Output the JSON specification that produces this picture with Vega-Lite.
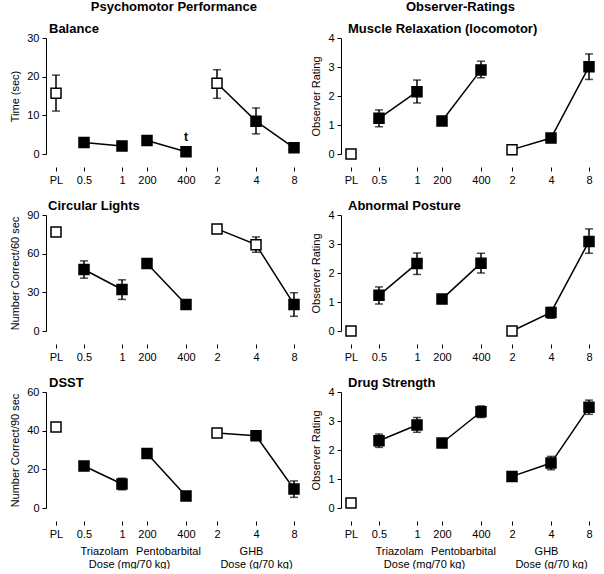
{
"$schema": "https://vega.github.io/schema/vega-lite/v6.json",
"padding": {"left": 9, "top": 1, "right": 0, "bottom": 0},
"background": "white",
"config": {
  "font": "Liberation Sans",
  "view": {"stroke": null},
  "axis": {"labelFont": "Liberation Sans", "labelFontSize": 11, "labelColor": "black", "titleFont": "Liberation Sans", "titleFontSize": 11, "titleFontWeight": "normal", "titleColor": "black", "domainColor": "black", "tickColor": "black", "grid": false},
  "title": {"font": "Liberation Sans", "fontSize": 13, "fontWeight": "bold", "color": "black"},
  "concat": {"spacing": 15}
},
"datasets": {
  "d": [
    {"p": "Balance", "drug": "PL", "dose": "PL", "mean": 15.7, "lo": 11.1, "hi": 20.4, "sig": "ns"},
    {"p": "Balance", "drug": "Triazolam", "dose": "0.5", "mean": 3.0, "lo": 2.5, "hi": 3.5, "sig": "s"},
    {"p": "Balance", "drug": "Triazolam", "dose": "1", "mean": 2.1, "lo": 1.6, "hi": 2.6, "sig": "s"},
    {"p": "Balance", "drug": "Pentobarbital", "dose": "200", "mean": 3.5, "lo": 3.0, "hi": 4.0, "sig": "s"},
    {"p": "Balance", "drug": "Pentobarbital", "dose": "400", "mean": 0.6, "lo": 0.3, "hi": 0.9, "sig": "s", "note": "t"},
    {"p": "Balance", "drug": "GHB", "dose": "2", "mean": 18.3, "lo": 14.4, "hi": 21.8, "sig": "ns"},
    {"p": "Balance", "drug": "GHB", "dose": "4", "mean": 8.5, "lo": 5.2, "hi": 11.9, "sig": "s"},
    {"p": "Balance", "drug": "GHB", "dose": "8", "mean": 1.6, "lo": 1.1, "hi": 2.1, "sig": "s"},

    {"p": "CL", "drug": "PL", "dose": "PL", "mean": 76.9, "lo": 74.5, "hi": 79.3, "sig": "ns"},
    {"p": "CL", "drug": "Triazolam", "dose": "0.5", "mean": 47.7, "lo": 41.0, "hi": 54.4, "sig": "s"},
    {"p": "CL", "drug": "Triazolam", "dose": "1", "mean": 32.2, "lo": 24.5, "hi": 39.7, "sig": "s"},
    {"p": "CL", "drug": "Pentobarbital", "dose": "200", "mean": 52.4, "lo": 49.0, "hi": 56.0, "sig": "s"},
    {"p": "CL", "drug": "Pentobarbital", "dose": "400", "mean": 20.6, "lo": 17.5, "hi": 23.7, "sig": "s"},
    {"p": "CL", "drug": "GHB", "dose": "2", "mean": 79.2, "lo": 76.0, "hi": 82.4, "sig": "ns"},
    {"p": "CL", "drug": "GHB", "dose": "4", "mean": 67.0, "lo": 61.1, "hi": 73.0, "sig": "ns"},
    {"p": "CL", "drug": "GHB", "dose": "8", "mean": 20.6, "lo": 11.4, "hi": 29.7, "sig": "s"},

    {"p": "DSST", "drug": "PL", "dose": "PL", "mean": 41.9, "lo": 40.5, "hi": 43.3, "sig": "ns"},
    {"p": "DSST", "drug": "Triazolam", "dose": "0.5", "mean": 21.7, "lo": 19.5, "hi": 23.9, "sig": "s"},
    {"p": "DSST", "drug": "Triazolam", "dose": "1", "mean": 12.4, "lo": 9.4, "hi": 15.4, "sig": "s"},
    {"p": "DSST", "drug": "Pentobarbital", "dose": "200", "mean": 28.2, "lo": 26.8, "hi": 29.6, "sig": "s"},
    {"p": "DSST", "drug": "Pentobarbital", "dose": "400", "mean": 6.2, "lo": 5.0, "hi": 7.4, "sig": "s"},
    {"p": "DSST", "drug": "GHB", "dose": "2", "mean": 38.8, "lo": 36.8, "hi": 40.8, "sig": "ns"},
    {"p": "DSST", "drug": "GHB", "dose": "4", "mean": 37.4, "lo": 36.0, "hi": 38.8, "sig": "s"},
    {"p": "DSST", "drug": "GHB", "dose": "8", "mean": 9.8, "lo": 5.5, "hi": 14.0, "sig": "s"},

    {"p": "MR", "drug": "PL", "dose": "PL", "mean": 0.0, "lo": 0.0, "hi": 0.0, "sig": "ns"},
    {"p": "MR", "drug": "Triazolam", "dose": "0.5", "mean": 1.23, "lo": 0.94, "hi": 1.52, "sig": "s"},
    {"p": "MR", "drug": "Triazolam", "dose": "1", "mean": 2.15, "lo": 1.76, "hi": 2.55, "sig": "s"},
    {"p": "MR", "drug": "Pentobarbital", "dose": "200", "mean": 1.14, "lo": 1.05, "hi": 1.23, "sig": "s"},
    {"p": "MR", "drug": "Pentobarbital", "dose": "400", "mean": 2.9, "lo": 2.63, "hi": 3.2, "sig": "s"},
    {"p": "MR", "drug": "GHB", "dose": "2", "mean": 0.15, "lo": 0.1, "hi": 0.2, "sig": "ns"},
    {"p": "MR", "drug": "GHB", "dose": "4", "mean": 0.55, "lo": 0.47, "hi": 0.63, "sig": "s"},
    {"p": "MR", "drug": "GHB", "dose": "8", "mean": 3.01, "lo": 2.57, "hi": 3.45, "sig": "s"},

    {"p": "AP", "drug": "PL", "dose": "PL", "mean": 0.0, "lo": 0.0, "hi": 0.0, "sig": "ns"},
    {"p": "AP", "drug": "Triazolam", "dose": "0.5", "mean": 1.23, "lo": 0.93, "hi": 1.52, "sig": "s"},
    {"p": "AP", "drug": "Triazolam", "dose": "1", "mean": 2.33, "lo": 1.95, "hi": 2.69, "sig": "s"},
    {"p": "AP", "drug": "Pentobarbital", "dose": "200", "mean": 1.1, "lo": 1.02, "hi": 1.18, "sig": "s"},
    {"p": "AP", "drug": "Pentobarbital", "dose": "400", "mean": 2.34, "lo": 2.0, "hi": 2.68, "sig": "s"},
    {"p": "AP", "drug": "GHB", "dose": "2", "mean": 0.0, "lo": 0.0, "hi": 0.0, "sig": "ns"},
    {"p": "AP", "drug": "GHB", "dose": "4", "mean": 0.64, "lo": 0.44, "hi": 0.81, "sig": "s"},
    {"p": "AP", "drug": "GHB", "dose": "8", "mean": 3.09, "lo": 2.68, "hi": 3.52, "sig": "s"},

    {"p": "DS", "drug": "PL", "dose": "PL", "mean": 0.17, "lo": 0.17, "hi": 0.17, "sig": "ns"},
    {"p": "DS", "drug": "Triazolam", "dose": "0.5", "mean": 2.32, "lo": 2.09, "hi": 2.55, "sig": "s"},
    {"p": "DS", "drug": "Triazolam", "dose": "1", "mean": 2.86, "lo": 2.61, "hi": 3.12, "sig": "s"},
    {"p": "DS", "drug": "Pentobarbital", "dose": "200", "mean": 2.24, "lo": 2.14, "hi": 2.34, "sig": "s"},
    {"p": "DS", "drug": "Pentobarbital", "dose": "400", "mean": 3.32, "lo": 3.12, "hi": 3.52, "sig": "s"},
    {"p": "DS", "drug": "GHB", "dose": "2", "mean": 1.09, "lo": 0.99, "hi": 1.19, "sig": "s"},
    {"p": "DS", "drug": "GHB", "dose": "4", "mean": 1.55, "lo": 1.32, "hi": 1.78, "sig": "s"},
    {"p": "DS", "drug": "GHB", "dose": "8", "mean": 3.47, "lo": 3.23, "hi": 3.72, "sig": "s"}
  ]
},
"hconcat": [
 {
  "title": {"text": "Psychomotor Performance", "anchor": "start", "dx": 81, "offset": 9},
  "spacing": 15,
  "vconcat": [
   {
    "width": 256, "height": 116,
    "title": {"text": "Balance", "anchor": "start", "frame": "group", "dx": 3, "offset": -4},
    "data": {"name": "d"},
    "transform": [{"filter": "datum.p == 'Balance'"}, {"calculate": "[10,38,76,101,140,171,210,248][indexof(['PL','0.5','1','200','400','2','4','8'], datum.dose)]", "as": "xpos"}],
    "encoding": {
      "x": {"field": "xpos", "type": "quantitative", "scale": {"domain": [0, 256], "nice": false, "zero": false}, "axis": {"values": [10, 38, 76, 101, 140, 171, 210, 248], "labelExpr": "['PL','0.5','1','200','400','2','4','8'][indexof([10,38,76,101,140,171,210,248], datum.value)]", "orient": "bottom", "offset": 13, "domain": false, "tickSize": 4, "labelPadding": 3, "labelFlush": false, "labelOverlap": false, "labelBound": false, "title": null}},
      "y": {"field": "mean", "type": "quantitative", "scale": {"domain": [0, 30], "nice": false, "zero": false}, "axis": {"values": [0, 10, 20, 30], "title": "Time (sec)", "orient": "left", "tickSize": 4, "labelPadding": 3, "titlePadding": 6}}
    },
    "layer": [
     {"transform": [{"aggregate": [{"op": "min", "field": "xpos", "as": "x1"}, {"op": "max", "field": "xpos", "as": "x2"}], "groupby": ["drug"]}, {"calculate": "datum.drug == 'PL' ? datum.x1 - 11 : datum.x1", "as": "a"}, {"calculate": "datum.drug == 'PL' ? datum.x2 + 11 : datum.x2", "as": "b"}],
      "mark": {"type": "rule", "color": "black", "strokeWidth": 1},
      "encoding": {"x": {"field": "a", "type": "quantitative"}, "x2": {"field": "b"}, "y": {"datum": -3.36, "type": "quantitative"}}},
     {"mark": {"type": "rule", "color": "black", "strokeWidth": 1.5},
      "encoding": {"y": {"field": "lo", "type": "quantitative"}, "y2": {"field": "hi"}}},
     {"transform": [{"fold": ["lo", "hi"], "as": ["bound", "val"]}],
      "mark": {"type": "tick", "orient": "horizontal", "size": 8, "thickness": 1.5, "color": "black"},
      "encoding": {"y": {"field": "val", "type": "quantitative"}}},
     {"transform": [{"filter": "datum.drug != 'PL'"}],
      "mark": {"type": "line", "color": "black", "strokeWidth": 1.5},
      "encoding": {"detail": {"field": "drug"}}},
     {"mark": {"type": "point", "shape": "square", "size": 100, "filled": true, "stroke": "black", "strokeWidth": 1.5, "opacity": 1},
      "encoding": {"fill": {"field": "sig", "type": "nominal", "scale": {"domain": ["ns", "s"], "range": ["white", "black"]}, "legend": null}}},
     {"transform": [{"filter": "datum.note"}],
      "mark": {"type": "text", "fontWeight": "bold", "fontSize": 12, "dy": -15, "color": "black"},
      "encoding": {"text": {"field": "note"}}}
    ]
   },
   {
    "width": 256, "height": 116,
    "title": {"text": "Circular Lights", "anchor": "start", "frame": "group", "dx": 2, "offset": -4},
    "data": {"name": "d"},
    "transform": [{"filter": "datum.p == 'CL'"}, {"calculate": "[10,38,76,101,140,171,210,248][indexof(['PL','0.5','1','200','400','2','4','8'], datum.dose)]", "as": "xpos"}],
    "encoding": {
      "x": {"field": "xpos", "type": "quantitative", "scale": {"domain": [0, 256], "nice": false, "zero": false}, "axis": {"values": [10, 38, 76, 101, 140, 171, 210, 248], "labelExpr": "['PL','0.5','1','200','400','2','4','8'][indexof([10,38,76,101,140,171,210,248], datum.value)]", "orient": "bottom", "offset": 13, "domain": false, "tickSize": 4, "labelPadding": 3, "labelFlush": false, "labelOverlap": false, "labelBound": false, "title": null}},
      "y": {"field": "mean", "type": "quantitative", "scale": {"domain": [0, 90], "nice": false, "zero": false}, "axis": {"values": [0, 30, 60, 90], "title": "Number Correct/60 sec", "orient": "left", "tickSize": 4, "labelPadding": 3, "titlePadding": 6}}
    },
    "layer": [
     {"transform": [{"aggregate": [{"op": "min", "field": "xpos", "as": "x1"}, {"op": "max", "field": "xpos", "as": "x2"}], "groupby": ["drug"]}, {"calculate": "datum.drug == 'PL' ? datum.x1 - 11 : datum.x1", "as": "a"}, {"calculate": "datum.drug == 'PL' ? datum.x2 + 11 : datum.x2", "as": "b"}],
      "mark": {"type": "rule", "color": "black", "strokeWidth": 1},
      "encoding": {"x": {"field": "a", "type": "quantitative"}, "x2": {"field": "b"}, "y": {"datum": -10.09, "type": "quantitative"}}},
     {"mark": {"type": "rule", "color": "black", "strokeWidth": 1.5},
      "encoding": {"y": {"field": "lo", "type": "quantitative"}, "y2": {"field": "hi"}}},
     {"transform": [{"fold": ["lo", "hi"], "as": ["bound", "val"]}],
      "mark": {"type": "tick", "orient": "horizontal", "size": 8, "thickness": 1.5, "color": "black"},
      "encoding": {"y": {"field": "val", "type": "quantitative"}}},
     {"transform": [{"filter": "datum.drug != 'PL'"}],
      "mark": {"type": "line", "color": "black", "strokeWidth": 1.5},
      "encoding": {"detail": {"field": "drug"}}},
     {"mark": {"type": "point", "shape": "square", "size": 100, "filled": true, "stroke": "black", "strokeWidth": 1.5, "opacity": 1},
      "encoding": {"fill": {"field": "sig", "type": "nominal", "scale": {"domain": ["ns", "s"], "range": ["white", "black"]}, "legend": null}}}
    ]
   },
   {
    "width": 256, "height": 116,
    "title": {"text": "DSST", "anchor": "start", "frame": "group", "dx": 3, "offset": -4},
    "data": {"name": "d"},
    "transform": [{"filter": "datum.p == 'DSST'"}, {"calculate": "[10,38,76,101,140,171,210,248][indexof(['PL','0.5','1','200','400','2','4','8'], datum.dose)]", "as": "xpos"}],
    "resolve": {"axis": {"x": "independent"}},
    "encoding": {
      "y": {"field": "mean", "type": "quantitative", "scale": {"domain": [0, 60], "nice": false, "zero": false}, "axis": {"values": [0, 20, 40, 60], "title": "Number Correct/90 sec", "orient": "left", "tickSize": 4, "labelPadding": 3, "titlePadding": 6}}
    },
    "layer": [
     {"transform": [{"aggregate": [{"op": "min", "field": "xpos", "as": "x1"}, {"op": "max", "field": "xpos", "as": "x2"}], "groupby": ["drug"]}, {"calculate": "datum.drug == 'PL' ? datum.x1 - 11 : datum.x1", "as": "a"}, {"calculate": "datum.drug == 'PL' ? datum.x2 + 11 : datum.x2", "as": "b"}],
      "mark": {"type": "rule", "color": "black", "strokeWidth": 1},
      "encoding": {"x": {"field": "a", "type": "quantitative", "scale": {"domain": [0, 256], "nice": false, "zero": false}, "axis": null}, "x2": {"field": "b"}, "y": {"datum": -6.72, "type": "quantitative"}}},
     {"mark": {"type": "rule", "color": "black", "strokeWidth": 1.5},
      "encoding": {"x": {"field": "xpos", "type": "quantitative", "scale": {"domain": [0, 256], "nice": false, "zero": false}, "axis": {"values": [58, 122, 205], "labelExpr": "datum.value == 58 ? 'Triazolam' : datum.value == 122 ? 'Pentobarbital' : 'GHB'", "orient": "bottom", "offset": 13, "domain": false, "ticks": false, "tickSize": 0, "labelPadding": 24, "labelFlush": false, "labelOverlap": false, "labelBound": false, "title": null}}, "y": {"field": "lo", "type": "quantitative"}, "y2": {"field": "hi"}}},
     {"transform": [{"fold": ["lo", "hi"], "as": ["bound", "val"]}],
      "mark": {"type": "tick", "orient": "horizontal", "size": 8, "thickness": 1.5, "color": "black"},
      "encoding": {"x": {"field": "xpos", "type": "quantitative", "scale": {"domain": [0, 256], "nice": false, "zero": false}, "axis": {"values": [83, 210], "labelExpr": "datum.value == 83 ? 'Dose (mg/70 kg)' : 'Dose (g/70 kg)'", "orient": "bottom", "offset": 13, "domain": false, "ticks": false, "tickSize": 0, "labelPadding": 37, "labelFlush": false, "labelOverlap": false, "labelBound": false, "title": null}}, "y": {"field": "val", "type": "quantitative"}}},
     {"transform": [{"filter": "datum.drug != 'PL'"}],
      "mark": {"type": "line", "color": "black", "strokeWidth": 1.5},
      "encoding": {"x": {"field": "xpos", "type": "quantitative", "scale": {"domain": [0, 256], "nice": false, "zero": false}, "axis": null}, "detail": {"field": "drug"}}},
     {"mark": {"type": "point", "shape": "square", "size": 100, "filled": true, "stroke": "black", "strokeWidth": 1.5, "opacity": 1},
      "encoding": {"x": {"field": "xpos", "type": "quantitative", "scale": {"domain": [0, 256], "nice": false, "zero": false}, "axis": {"values": [10, 38, 76, 101, 140, 171, 210, 248], "labelExpr": "['PL','0.5','1','200','400','2','4','8'][indexof([10,38,76,101,140,171,210,248], datum.value)]", "orient": "bottom", "offset": 13, "domain": false, "tickSize": 4, "labelPadding": 3, "labelFlush": false, "labelOverlap": false, "labelBound": false, "title": null}},
       "fill": {"field": "sig", "type": "nominal", "scale": {"domain": ["ns", "s"], "range": ["white", "black"]}, "legend": null}}}
    ]
   }
  ]
 },
 {
  "title": {"text": "Observer-Ratings", "anchor": "start", "dx": 95, "offset": 9},
  "spacing": 15,
  "vconcat": [
   {
    "width": 256, "height": 116,
    "title": {"text": "Muscle Relaxation (locomotor)", "anchor": "start", "frame": "group", "dx": 7, "offset": -4},
    "data": {"name": "d"},
    "transform": [{"filter": "datum.p == 'MR'"}, {"calculate": "[10,38,76,101,140,171,210,248][indexof(['PL','0.5','1','200','400','2','4','8'], datum.dose)]", "as": "xpos"}],
    "encoding": {
      "x": {"field": "xpos", "type": "quantitative", "scale": {"domain": [0, 256], "nice": false, "zero": false}, "axis": {"values": [10, 38, 76, 101, 140, 171, 210, 248], "labelExpr": "['PL','0.5','1','200','400','2','4','8'][indexof([10,38,76,101,140,171,210,248], datum.value)]", "orient": "bottom", "offset": 13, "domain": false, "tickSize": 4, "labelPadding": 3, "labelFlush": false, "labelOverlap": false, "labelBound": false, "title": null}},
      "y": {"field": "mean", "type": "quantitative", "scale": {"domain": [0, 4], "nice": false, "zero": false}, "axis": {"values": [0, 1, 2, 3, 4], "title": "Observer Rating", "orient": "left", "tickSize": 4, "labelPadding": 3, "titlePadding": 6}}
    },
    "layer": [
     {"transform": [{"aggregate": [{"op": "min", "field": "xpos", "as": "x1"}, {"op": "max", "field": "xpos", "as": "x2"}], "groupby": ["drug"]}, {"calculate": "datum.drug == 'PL' ? datum.x1 - 11 : datum.x1", "as": "a"}, {"calculate": "datum.drug == 'PL' ? datum.x2 + 11 : datum.x2", "as": "b"}],
      "mark": {"type": "rule", "color": "black", "strokeWidth": 1},
      "encoding": {"x": {"field": "a", "type": "quantitative"}, "x2": {"field": "b"}, "y": {"datum": -0.448, "type": "quantitative"}}},
     {"mark": {"type": "rule", "color": "black", "strokeWidth": 1.5},
      "encoding": {"y": {"field": "lo", "type": "quantitative"}, "y2": {"field": "hi"}}},
     {"transform": [{"fold": ["lo", "hi"], "as": ["bound", "val"]}],
      "mark": {"type": "tick", "orient": "horizontal", "size": 8, "thickness": 1.5, "color": "black"},
      "encoding": {"y": {"field": "val", "type": "quantitative"}}},
     {"transform": [{"filter": "datum.drug != 'PL'"}],
      "mark": {"type": "line", "color": "black", "strokeWidth": 1.5},
      "encoding": {"detail": {"field": "drug"}}},
     {"mark": {"type": "point", "shape": "square", "size": 100, "filled": true, "stroke": "black", "strokeWidth": 1.5, "opacity": 1},
      "encoding": {"fill": {"field": "sig", "type": "nominal", "scale": {"domain": ["ns", "s"], "range": ["white", "black"]}, "legend": null}}}
    ]
   },
   {
    "width": 256, "height": 116,
    "title": {"text": "Abnormal Posture", "anchor": "start", "frame": "group", "dx": 7, "offset": -4},
    "data": {"name": "d"},
    "transform": [{"filter": "datum.p == 'AP'"}, {"calculate": "[10,38,76,101,140,171,210,248][indexof(['PL','0.5','1','200','400','2','4','8'], datum.dose)]", "as": "xpos"}],
    "encoding": {
      "x": {"field": "xpos", "type": "quantitative", "scale": {"domain": [0, 256], "nice": false, "zero": false}, "axis": {"values": [10, 38, 76, 101, 140, 171, 210, 248], "labelExpr": "['PL','0.5','1','200','400','2','4','8'][indexof([10,38,76,101,140,171,210,248], datum.value)]", "orient": "bottom", "offset": 13, "domain": false, "tickSize": 4, "labelPadding": 3, "labelFlush": false, "labelOverlap": false, "labelBound": false, "title": null}},
      "y": {"field": "mean", "type": "quantitative", "scale": {"domain": [0, 4], "nice": false, "zero": false}, "axis": {"values": [0, 1, 2, 3, 4], "title": "Observer Rating", "orient": "left", "tickSize": 4, "labelPadding": 3, "titlePadding": 6}}
    },
    "layer": [
     {"transform": [{"aggregate": [{"op": "min", "field": "xpos", "as": "x1"}, {"op": "max", "field": "xpos", "as": "x2"}], "groupby": ["drug"]}, {"calculate": "datum.drug == 'PL' ? datum.x1 - 11 : datum.x1", "as": "a"}, {"calculate": "datum.drug == 'PL' ? datum.x2 + 11 : datum.x2", "as": "b"}],
      "mark": {"type": "rule", "color": "black", "strokeWidth": 1},
      "encoding": {"x": {"field": "a", "type": "quantitative"}, "x2": {"field": "b"}, "y": {"datum": -0.448, "type": "quantitative"}}},
     {"mark": {"type": "rule", "color": "black", "strokeWidth": 1.5},
      "encoding": {"y": {"field": "lo", "type": "quantitative"}, "y2": {"field": "hi"}}},
     {"transform": [{"fold": ["lo", "hi"], "as": ["bound", "val"]}],
      "mark": {"type": "tick", "orient": "horizontal", "size": 8, "thickness": 1.5, "color": "black"},
      "encoding": {"y": {"field": "val", "type": "quantitative"}}},
     {"transform": [{"filter": "datum.drug != 'PL'"}],
      "mark": {"type": "line", "color": "black", "strokeWidth": 1.5},
      "encoding": {"detail": {"field": "drug"}}},
     {"mark": {"type": "point", "shape": "square", "size": 100, "filled": true, "stroke": "black", "strokeWidth": 1.5, "opacity": 1},
      "encoding": {"fill": {"field": "sig", "type": "nominal", "scale": {"domain": ["ns", "s"], "range": ["white", "black"]}, "legend": null}}}
    ]
   },
   {
    "width": 256, "height": 116,
    "title": {"text": "Drug Strength", "anchor": "start", "frame": "group", "dx": 7, "offset": -4},
    "data": {"name": "d"},
    "transform": [{"filter": "datum.p == 'DS'"}, {"calculate": "[10,38,76,101,140,171,210,248][indexof(['PL','0.5','1','200','400','2','4','8'], datum.dose)]", "as": "xpos"}],
    "resolve": {"axis": {"x": "independent"}},
    "encoding": {
      "y": {"field": "mean", "type": "quantitative", "scale": {"domain": [0, 4], "nice": false, "zero": false}, "axis": {"values": [0, 1, 2, 3, 4], "title": "Observer Rating", "orient": "left", "tickSize": 4, "labelPadding": 3, "titlePadding": 6}}
    },
    "layer": [
     {"transform": [{"aggregate": [{"op": "min", "field": "xpos", "as": "x1"}, {"op": "max", "field": "xpos", "as": "x2"}], "groupby": ["drug"]}, {"calculate": "datum.drug == 'PL' ? datum.x1 - 11 : datum.x1", "as": "a"}, {"calculate": "datum.drug == 'PL' ? datum.x2 + 11 : datum.x2", "as": "b"}],
      "mark": {"type": "rule", "color": "black", "strokeWidth": 1},
      "encoding": {"x": {"field": "a", "type": "quantitative", "scale": {"domain": [0, 256], "nice": false, "zero": false}, "axis": null}, "x2": {"field": "b"}, "y": {"datum": -0.448, "type": "quantitative"}}},
     {"mark": {"type": "rule", "color": "black", "strokeWidth": 1.5},
      "encoding": {"x": {"field": "xpos", "type": "quantitative", "scale": {"domain": [0, 256], "nice": false, "zero": false}, "axis": {"values": [58, 122, 205], "labelExpr": "datum.value == 58 ? 'Triazolam' : datum.value == 122 ? 'Pentobarbital' : 'GHB'", "orient": "bottom", "offset": 13, "domain": false, "ticks": false, "tickSize": 0, "labelPadding": 24, "labelFlush": false, "labelOverlap": false, "labelBound": false, "title": null}}, "y": {"field": "lo", "type": "quantitative"}, "y2": {"field": "hi"}}},
     {"transform": [{"fold": ["lo", "hi"], "as": ["bound", "val"]}],
      "mark": {"type": "tick", "orient": "horizontal", "size": 8, "thickness": 1.5, "color": "black"},
      "encoding": {"x": {"field": "xpos", "type": "quantitative", "scale": {"domain": [0, 256], "nice": false, "zero": false}, "axis": {"values": [83, 210], "labelExpr": "datum.value == 83 ? 'Dose (mg/70 kg)' : 'Dose (g/70 kg)'", "orient": "bottom", "offset": 13, "domain": false, "ticks": false, "tickSize": 0, "labelPadding": 37, "labelFlush": false, "labelOverlap": false, "labelBound": false, "title": null}}, "y": {"field": "val", "type": "quantitative"}}},
     {"transform": [{"filter": "datum.drug != 'PL'"}],
      "mark": {"type": "line", "color": "black", "strokeWidth": 1.5},
      "encoding": {"x": {"field": "xpos", "type": "quantitative", "scale": {"domain": [0, 256], "nice": false, "zero": false}, "axis": null}, "detail": {"field": "drug"}}},
     {"mark": {"type": "point", "shape": "square", "size": 100, "filled": true, "stroke": "black", "strokeWidth": 1.5, "opacity": 1},
      "encoding": {"x": {"field": "xpos", "type": "quantitative", "scale": {"domain": [0, 256], "nice": false, "zero": false}, "axis": {"values": [10, 38, 76, 101, 140, 171, 210, 248], "labelExpr": "['PL','0.5','1','200','400','2','4','8'][indexof([10,38,76,101,140,171,210,248], datum.value)]", "orient": "bottom", "offset": 13, "domain": false, "tickSize": 4, "labelPadding": 3, "labelFlush": false, "labelOverlap": false, "labelBound": false, "title": null}},
       "fill": {"field": "sig", "type": "nominal", "scale": {"domain": ["ns", "s"], "range": ["white", "black"]}, "legend": null}}}
    ]
   }
  ]
 }
],
"spacing": 8
}
